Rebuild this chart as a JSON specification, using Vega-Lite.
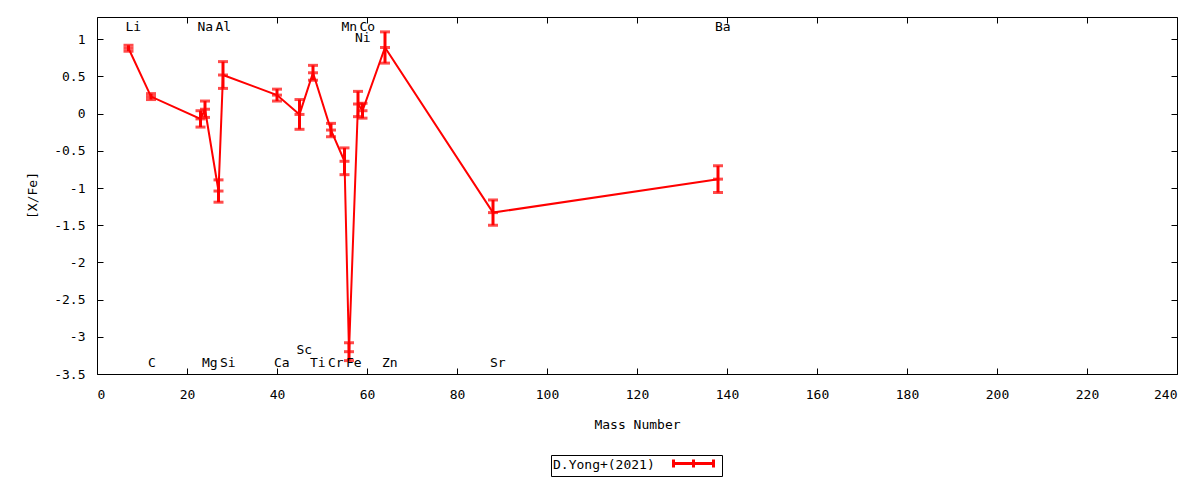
{
  "$schema": "https://vega.github.io/schema/vega-lite/v6.json",
  "width": 1080,
  "height": 357,
  "autosize": {"type": "none"},
  "padding": {"left": 97, "top": 17, "right": 23, "bottom": 106},
  "background": "white",
  "config": {
    "view": {"stroke": "black", "strokeWidth": 1},
    "font": "DejaVu Sans Mono",
    "axis": {
      "domain": false,
      "grid": false,
      "tickColor": "black",
      "tickSize": -6,
      "tickWidth": 1,
      "labelFont": "DejaVu Sans Mono",
      "labelFontSize": 13,
      "labelColor": "black",
      "titleFont": "DejaVu Sans Mono",
      "titleFontSize": 13,
      "titleFontWeight": "normal",
      "titleColor": "black"
    }
  },
  "datasets": {
    "abund": [
      {"el": "Li", "mass": 7, "value": 0.88, "err": 0.04},
      {"el": "C", "mass": 12, "value": 0.23, "err": 0.04},
      {"el": "Na", "mass": 23, "value": -0.07, "err": 0.11},
      {"el": "Mg", "mass": 24, "value": 0.06, "err": 0.11},
      {"el": "Al", "mass": 27, "value": -1.04, "err": 0.15},
      {"el": "Si", "mass": 28, "value": 0.52, "err": 0.18},
      {"el": "Ca", "mass": 40, "value": 0.25, "err": 0.08},
      {"el": "Sc", "mass": 45, "value": -0.01, "err": 0.2},
      {"el": "Ti", "mass": 48, "value": 0.55, "err": 0.1},
      {"el": "Cr", "mass": 52, "value": -0.22, "err": 0.09},
      {"el": "Mn", "mass": 55, "value": -0.64, "err": 0.18},
      {"el": "Fe", "mass": 56, "value": -3.2, "err": 0.12},
      {"el": "Ni", "mass": 58, "value": 0.13, "err": 0.17},
      {"el": "Co", "mass": 59, "value": 0.04, "err": 0.1},
      {"el": "Zn", "mass": 64, "value": 0.89, "err": 0.21},
      {"el": "Sr", "mass": 88, "value": -1.33, "err": 0.17},
      {"el": "Ba", "mass": 138, "value": -0.88, "err": 0.18}
    ],
    "labels": [
      {"el": "Li", "mass": 7, "ly": 1.16},
      {"el": "C", "mass": 12, "ly": -3.354},
      {"el": "Na", "mass": 23, "ly": 1.16},
      {"el": "Mg", "mass": 24, "ly": -3.354},
      {"el": "Al", "mass": 27, "ly": 1.16},
      {"el": "Si", "mass": 28, "ly": -3.354},
      {"el": "Ca", "mass": 40, "ly": -3.354},
      {"el": "Sc", "mass": 45, "ly": -3.174},
      {"el": "Ti", "mass": 48, "ly": -3.354},
      {"el": "Cr", "mass": 52, "ly": -3.354},
      {"el": "Mn", "mass": 55, "ly": 1.16},
      {"el": "Fe", "mass": 56, "ly": -3.354},
      {"el": "Ni", "mass": 58, "ly": 1.02},
      {"el": "Co", "mass": 59, "ly": 1.16},
      {"el": "Zn", "mass": 64, "ly": -3.354},
      {"el": "Sr", "mass": 88, "ly": -3.354},
      {"el": "Ba", "mass": 138, "ly": 1.16}
    ]
  },
  "resolve": {"axis": {"x": "independent", "y": "independent"}},
  "layer": [
    {
      "data": {"name": "abund"},
      "mark": {"type": "line", "strokeWidth": 2, "clip": true},
      "encoding": {
        "x": {
          "field": "mass", "type": "quantitative",
          "scale": {"domain": [0, 240], "nice": false, "zero": false},
          "axis": {"orient": "bottom", "values": [0,20,40,60,80,100,120,140,160,180,200,220,240], "labelExpr": "'' + datum.value", "labelPadding": 20, "title": "Mass Number", "titleY": 50, "titleBaseline": "middle"}
        },
        "y": {
          "field": "value", "type": "quantitative",
          "scale": {"domain": [-3.5, 1.3], "nice": false, "zero": false},
          "axis": {"orient": "left", "values": [-3.5,-3,-2.5,-2,-1.5,-1,-0.5,0,0.5,1], "labelExpr": "'' + datum.value", "labelPadding": 18, "title": "[X/Fe]", "titleX": -65, "titleY": 178, "titleBaseline": "middle", "titleAngle": -90}
        },
        "color": {
          "datum": "D.Yong+(2021)",
          "scale": {"range": ["#ff0000"]},
          "legend": {
            "orient": "none",
            "legendX": 454,
            "legendY": 438,
            "title": "D.Yong+(2021)",
            "titleOrient": "left",
            "titleFont": "DejaVu Sans Mono",
            "titleFontSize": 13,
            "titleFontWeight": "normal",
            "titleColor": "black",
            "titlePadding": 14,
            "labelExpr": "''",
            "labelFontSize": 6,
            "labelOffset": 0,
            "symbolType": "M-4,0H4M-4,-0.8V0.8M4,-0.8V0.8M0,-0.8V0.8",
            "symbolSize": 100,
            "symbolStrokeWidth": 3,
            "symbolStrokeColor": "#ff0000",
            "symbolFillColor": "transparent",
            "symbolOffset": 18,
            "strokeColor": "black",
            "fillColor": "white",
            "padding": 2
          }
        }
      }
    },
    {
      "data": {"name": "abund"},
      "mark": {"type": "errorbar", "ticks": {"size": 10, "thickness": 3, "color": "#ff0000"}, "rule": {"strokeWidth": 3, "color": "#ff0000"}, "color": "#ff0000"},
      "encoding": {
        "x": {"field": "mass", "type": "quantitative", "scale": {"domain": [0, 240], "nice": false, "zero": false}, "axis": null},
        "y": {"field": "value", "type": "quantitative", "scale": {"domain": [-3.5, 1.3], "nice": false, "zero": false}, "axis": null},
        "yError": {"field": "err"}
      }
    },
    {
      "data": {"name": "abund"},
      "mark": {"type": "tick", "orient": "horizontal", "size": 10, "thickness": 3, "color": "#ff0000"},
      "encoding": {
        "x": {"field": "mass", "type": "quantitative", "scale": {"domain": [0, 240], "nice": false, "zero": false},
          "axis": {"orient": "top", "values": [0,20,40,60,80,100,120,140,160,180,200,220,240], "labels": false, "title": null}},
        "y": {"field": "value", "type": "quantitative", "scale": {"domain": [-3.5, 1.3], "nice": false, "zero": false},
          "axis": {"orient": "right", "values": [-3.5,-3,-2.5,-2,-1.5,-1,-0.5,0,0.5,1], "labels": false, "title": null}}
      }
    },
    {
      "data": {"name": "labels"},
      "mark": {"type": "text", "align": "left", "baseline": "middle", "dx": -3, "fontSize": 13, "font": "DejaVu Sans Mono", "color": "black"},
      "encoding": {
        "x": {"field": "mass", "type": "quantitative", "scale": {"domain": [0, 240], "nice": false, "zero": false}, "axis": null},
        "y": {"field": "ly", "type": "quantitative", "scale": {"domain": [-3.5, 1.3], "nice": false, "zero": false}, "axis": null},
        "text": {"field": "el"}
      }
    }
  ]
}
